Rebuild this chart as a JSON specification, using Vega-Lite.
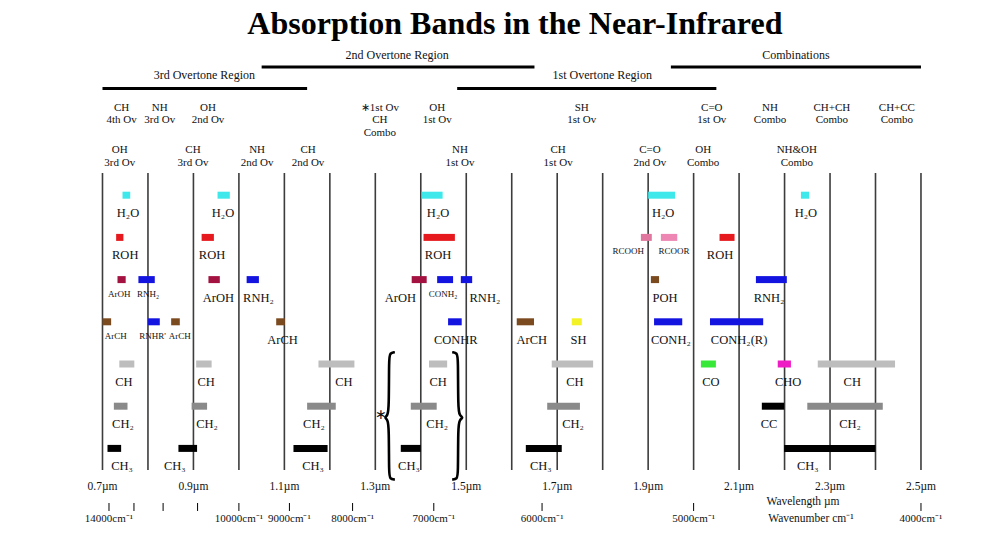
{
  "$schema": "https://vega.github.io/schema/vega-lite/v6.json",
  "width": 992,
  "height": 547,
  "padding": 0,
  "autosize": {"type": "fit", "contains": "padding"},
  "background": "white",
  "config": {"view": {"stroke": null}, "text": {"font": "Liberation Serif", "color": "#111"}},
  "datasets": {
    "grid": [
      {"wl": 0.7, "row": 0.474, "row2": 7.51}, {"wl": 0.8, "row": 0.474, "row2": 7.51},
      {"wl": 0.9, "row": 0.474, "row2": 7.51}, {"wl": 1.0, "row": 0.474, "row2": 7.51},
      {"wl": 1.1, "row": 0.474, "row2": 7.51}, {"wl": 1.2, "row": 0.474, "row2": 7.51},
      {"wl": 1.3, "row": 0.474, "row2": 7.51}, {"wl": 1.4, "row": 0.474, "row2": 7.51},
      {"wl": 1.5, "row": 0.474, "row2": 7.51}, {"wl": 1.6, "row": 0.474, "row2": 7.51},
      {"wl": 1.7, "row": 0.474, "row2": 7.51}, {"wl": 1.8, "row": 0.474, "row2": 7.51},
      {"wl": 1.9, "row": 0.474, "row2": 7.51}, {"wl": 2.0, "row": 0.474, "row2": 7.51},
      {"wl": 2.1, "row": 0.474, "row2": 7.51}, {"wl": 2.2, "row": 0.474, "row2": 7.51},
      {"wl": 2.3, "row": 0.474, "row2": 7.51}, {"wl": 2.4, "row": 0.474, "row2": 7.51},
      {"wl": 2.5, "row": 0.474, "row2": 7.51}
    ],
    "regionLines": [
      {"wl": 0.7, "wl2": 1.15, "row": -1.528},
      {"wl": 1.05, "wl2": 1.65, "row": -2.038},
      {"wl": 1.48, "wl2": 2.05, "row": -1.528},
      {"wl": 1.95, "wl2": 2.5, "row": -2.038}
    ],
    "regionText": [
      {"wl": 0.924, "row": -1.848, "label": "3rd Overtone Region"},
      {"wl": 1.348, "row": -2.322, "label": "2nd Overtone Region"},
      {"wl": 1.799, "row": -1.848, "label": "1st Overtone Region"},
      {"wl": 2.225, "row": -2.322, "label": "Combinations"}
    ],
    "title": [
      {"wl": 1.607, "row": -3.06, "label": "Absorption Bands in the Near-Infrared"}
    ],
    "headers": [
      {"wl": 0.742, "row": -1.216, "label": "CH\n4th Ov"},
      {"wl": 0.826, "row": -1.216, "label": "NH\n3rd Ov"},
      {"wl": 0.932, "row": -1.216, "label": "OH\n2nd Ov"},
      {"wl": 1.31, "row": -1.216, "label": "∗1st Ov\nCH\nCombo"},
      {"wl": 1.436, "row": -1.216, "label": "OH\n1st Ov"},
      {"wl": 1.754, "row": -1.216, "label": "SH\n1st Ov"},
      {"wl": 2.04, "row": -1.216, "label": "C=O\n1st Ov"},
      {"wl": 2.168, "row": -1.216, "label": "NH\nCombo"},
      {"wl": 2.304, "row": -1.216, "label": "CH+CH\nCombo"},
      {"wl": 2.447, "row": -1.216, "label": "CH+CC\nCombo"},
      {"wl": 0.738, "row": -0.209, "label": "OH\n3rd Ov"},
      {"wl": 0.899, "row": -0.209, "label": "CH\n3rd Ov"},
      {"wl": 1.04, "row": -0.209, "label": "NH\n2nd Ov"},
      {"wl": 1.152, "row": -0.209, "label": "CH\n2nd Ov"},
      {"wl": 1.486, "row": -0.209, "label": "NH\n1st Ov"},
      {"wl": 1.702, "row": -0.209, "label": "CH\n1st Ov"},
      {"wl": 1.904, "row": -0.209, "label": "C=O\n2nd Ov"},
      {"wl": 2.021, "row": -0.209, "label": "OH\nCombo"},
      {"wl": 2.227, "row": -0.209, "label": "NH&OH\nCombo"}
    ],
    "bands": [
      {"wl": 0.744, "wl2": 0.761, "row": 1, "grp": "H2O"},
      {"wl": 0.953, "wl2": 0.980, "row": 1, "grp": "H2O"},
      {"wl": 1.402, "wl2": 1.448, "row": 1, "grp": "H2O"},
      {"wl": 1.900, "wl2": 1.959, "row": 1, "grp": "H2O"},
      {"wl": 2.236, "wl2": 2.254, "row": 1, "grp": "H2O"},
      {"wl": 0.730, "wl2": 0.746, "row": 2, "grp": "ROH"},
      {"wl": 0.918, "wl2": 0.945, "row": 2, "grp": "ROH"},
      {"wl": 1.406, "wl2": 1.475, "row": 2, "grp": "ROH"},
      {"wl": 1.884, "wl2": 1.908, "row": 2, "grp": "RCOOH"},
      {"wl": 1.928, "wl2": 1.964, "row": 2, "grp": "RCOOR"},
      {"wl": 2.057, "wl2": 2.090, "row": 2, "grp": "ROH"},
      {"wl": 0.733, "wl2": 0.751, "row": 3, "grp": "ArOH"},
      {"wl": 0.779, "wl2": 0.815, "row": 3, "grp": "RNH2"},
      {"wl": 0.933, "wl2": 0.958, "row": 3, "grp": "ArOH"},
      {"wl": 1.017, "wl2": 1.044, "row": 3, "grp": "RNH2"},
      {"wl": 1.380, "wl2": 1.413, "row": 3, "grp": "ArOH"},
      {"wl": 1.436, "wl2": 1.471, "row": 3, "grp": "CONH2"},
      {"wl": 1.488, "wl2": 1.513, "row": 3, "grp": "RNH2"},
      {"wl": 1.906, "wl2": 1.924, "row": 3, "grp": "POH"},
      {"wl": 2.137, "wl2": 2.205, "row": 3, "grp": "RNH2"},
      {"wl": 0.700, "wl2": 0.719, "row": 4, "grp": "ArCH"},
      {"wl": 0.800, "wl2": 0.826, "row": 4, "grp": "RNHR'"},
      {"wl": 0.851, "wl2": 0.870, "row": 4, "grp": "ArCH"},
      {"wl": 1.082, "wl2": 1.101, "row": 4, "grp": "ArCH"},
      {"wl": 1.460, "wl2": 1.490, "row": 4, "grp": "CONHR"},
      {"wl": 1.611, "wl2": 1.649, "row": 4, "grp": "ArCH"},
      {"wl": 1.732, "wl2": 1.754, "row": 4, "grp": "SH"},
      {"wl": 1.913, "wl2": 1.975, "row": 4, "grp": "CONH2"},
      {"wl": 2.036, "wl2": 2.153, "row": 4, "grp": "CONH2"},
      {"wl": 0.737, "wl2": 0.770, "row": 5, "grp": "CH"},
      {"wl": 0.906, "wl2": 0.940, "row": 5, "grp": "CH"},
      {"wl": 1.175, "wl2": 1.254, "row": 5, "grp": "CH"},
      {"wl": 1.418, "wl2": 1.458, "row": 5, "grp": "CH"},
      {"wl": 1.688, "wl2": 1.779, "row": 5, "grp": "CH"},
      {"wl": 2.016, "wl2": 2.049, "row": 5, "grp": "CO"},
      {"wl": 2.185, "wl2": 2.214, "row": 5, "grp": "CHO"},
      {"wl": 2.273, "wl2": 2.443, "row": 5, "grp": "CH"},
      {"wl": 0.725, "wl2": 0.755, "row": 6, "grp": "CH2"},
      {"wl": 0.896, "wl2": 0.930, "row": 6, "grp": "CH2"},
      {"wl": 1.150, "wl2": 1.213, "row": 6, "grp": "CH2"},
      {"wl": 1.378, "wl2": 1.435, "row": 6, "grp": "CH2"},
      {"wl": 1.678, "wl2": 1.750, "row": 6, "grp": "CH2"},
      {"wl": 2.150, "wl2": 2.199, "row": 6, "grp": "CC"},
      {"wl": 2.250, "wl2": 2.416, "row": 6, "grp": "CH2"},
      {"wl": 0.711, "wl2": 0.741, "row": 7, "grp": "CH3"},
      {"wl": 0.867, "wl2": 0.908, "row": 7, "grp": "CH3"},
      {"wl": 1.120, "wl2": 1.195, "row": 7, "grp": "CH3"},
      {"wl": 1.356, "wl2": 1.400, "row": 7, "grp": "CH3"},
      {"wl": 1.631, "wl2": 1.710, "row": 7, "grp": "CH3"},
      {"wl": 2.199, "wl2": 2.400, "row": 7, "grp": "CH3"}
    ],
    "labels": [
      {"wl": 0.756, "row": 1, "label": "H₂O", "kind": "major"},
      {"wl": 0.965, "row": 1, "label": "H₂O", "kind": "major"},
      {"wl": 1.438, "row": 1, "label": "H₂O", "kind": "major"},
      {"wl": 1.933, "row": 1, "label": "H₂O", "kind": "major"},
      {"wl": 2.247, "row": 1, "label": "H₂O", "kind": "major"},
      {"wl": 0.750, "row": 2, "label": "ROH", "kind": "major"},
      {"wl": 0.941, "row": 2, "label": "ROH", "kind": "major"},
      {"wl": 1.438, "row": 2, "label": "ROH", "kind": "major"},
      {"wl": 1.856, "row": 2, "label": "RCOOH", "kind": "minor"},
      {"wl": 1.957, "row": 2, "label": "RCOOR", "kind": "minor"},
      {"wl": 2.058, "row": 2, "label": "ROH", "kind": "major"},
      {"wl": 0.737, "row": 3, "label": "ArOH", "kind": "minor"},
      {"wl": 0.800, "row": 3, "label": "RNH₂", "kind": "minor"},
      {"wl": 0.955, "row": 3, "label": "ArOH", "kind": "major"},
      {"wl": 1.043, "row": 3, "label": "RNH₂", "kind": "major"},
      {"wl": 1.355, "row": 3, "label": "ArOH", "kind": "major"},
      {"wl": 1.449, "row": 3, "label": "CONH₂", "kind": "minor"},
      {"wl": 1.541, "row": 3, "label": "RNH₂", "kind": "major"},
      {"wl": 1.937, "row": 3, "label": "POH", "kind": "major"},
      {"wl": 2.166, "row": 3, "label": "RNH₂", "kind": "major"},
      {"wl": 0.729, "row": 4, "label": "ArCH", "kind": "minor"},
      {"wl": 0.810, "row": 4, "label": "RNHR'", "kind": "minor"},
      {"wl": 0.870, "row": 4, "label": "ArCH", "kind": "minor"},
      {"wl": 1.096, "row": 4, "label": "ArCH", "kind": "major"},
      {"wl": 1.477, "row": 4, "label": "CONHR", "kind": "major"},
      {"wl": 1.644, "row": 4, "label": "ArCH", "kind": "major"},
      {"wl": 1.747, "row": 4, "label": "SH", "kind": "major"},
      {"wl": 1.950, "row": 4, "label": "CONH₂", "kind": "major"},
      {"wl": 2.100, "row": 4, "label": "CONH₂(R)", "kind": "major"},
      {"wl": 0.747, "row": 5, "label": "CH", "kind": "major"},
      {"wl": 0.928, "row": 5, "label": "CH", "kind": "major"},
      {"wl": 1.231, "row": 5, "label": "CH", "kind": "major"},
      {"wl": 1.438, "row": 5, "label": "CH", "kind": "major"},
      {"wl": 1.739, "row": 5, "label": "CH", "kind": "major"},
      {"wl": 2.038, "row": 5, "label": "CO", "kind": "major"},
      {"wl": 2.208, "row": 5, "label": "CHO", "kind": "major"},
      {"wl": 2.349, "row": 5, "label": "CH", "kind": "major"},
      {"wl": 0.745, "row": 6, "label": "CH₂", "kind": "major"},
      {"wl": 0.930, "row": 6, "label": "CH₂", "kind": "major"},
      {"wl": 1.165, "row": 6, "label": "CH₂", "kind": "major"},
      {"wl": 1.436, "row": 6, "label": "CH₂", "kind": "major"},
      {"wl": 1.735, "row": 6, "label": "CH₂", "kind": "major"},
      {"wl": 2.166, "row": 6, "label": "CC", "kind": "major"},
      {"wl": 2.344, "row": 6, "label": "CH₂", "kind": "major"},
      {"wl": 0.743, "row": 7, "label": "CH₃", "kind": "major"},
      {"wl": 0.859, "row": 7, "label": "CH₃", "kind": "major"},
      {"wl": 1.163, "row": 7, "label": "CH₃", "kind": "major"},
      {"wl": 1.374, "row": 7, "label": "CH₃", "kind": "major"},
      {"wl": 1.664, "row": 7, "label": "CH₃", "kind": "major"},
      {"wl": 2.251, "row": 7, "label": "CH₃", "kind": "major"}
    ],
    "braces": [
      {"side": "left", "i": 1, "wl": 1.343, "row": 4.72},
      {"side": "left", "i": 2, "wl": 1.332, "row": 4.74},
      {"side": "left", "i": 3, "wl": 1.330, "row": 4.86},
      {"side": "left", "i": 4, "wl": 1.330, "row": 6.05},
      {"side": "left", "i": 5, "wl": 1.327, "row": 6.22},
      {"side": "left", "i": 6, "wl": 1.320, "row": 6.27},
      {"side": "left", "i": 7, "wl": 1.327, "row": 6.32},
      {"side": "left", "i": 8, "wl": 1.330, "row": 6.49},
      {"side": "left", "i": 9, "wl": 1.330, "row": 7.62},
      {"side": "left", "i": 10, "wl": 1.332, "row": 7.72},
      {"side": "left", "i": 11, "wl": 1.343, "row": 7.74},
      {"side": "right", "i": 1, "wl": 1.469, "row": 4.72},
      {"side": "right", "i": 2, "wl": 1.480, "row": 4.74},
      {"side": "right", "i": 3, "wl": 1.482, "row": 4.86},
      {"side": "right", "i": 4, "wl": 1.482, "row": 6.05},
      {"side": "right", "i": 5, "wl": 1.485, "row": 6.22},
      {"side": "right", "i": 6, "wl": 1.494, "row": 6.27},
      {"side": "right", "i": 7, "wl": 1.485, "row": 6.32},
      {"side": "right", "i": 8, "wl": 1.482, "row": 6.49},
      {"side": "right", "i": 9, "wl": 1.482, "row": 7.62},
      {"side": "right", "i": 10, "wl": 1.480, "row": 7.72},
      {"side": "right", "i": 11, "wl": 1.469, "row": 7.74}
    ],
    "stars": [
      {"wl": 1.312, "row": 6.22, "label": "∗"}
    ],
    "wavelengths": [
      {"wl": 0.7, "row": 7.915, "label": "0.7µm"}, {"wl": 0.9, "row": 7.915, "label": "0.9µm"},
      {"wl": 1.1, "row": 7.915, "label": "1.1µm"}, {"wl": 1.3, "row": 7.915, "label": "1.3µm"},
      {"wl": 1.5, "row": 7.915, "label": "1.5µm"}, {"wl": 1.7, "row": 7.915, "label": "1.7µm"},
      {"wl": 1.9, "row": 7.915, "label": "1.9µm"}, {"wl": 2.1, "row": 7.915, "label": "2.1µm"},
      {"wl": 2.3, "row": 7.915, "label": "2.3µm"}, {"wl": 2.5, "row": 7.915, "label": "2.5µm"}
    ],
    "wavenumbers": [
      {"wl": 0.7143, "row": 8.294, "row2": 8.483, "rowLabel": 8.673, "label": "14000cm⁻¹"},
      {"wl": 0.7692, "row": 8.294, "row2": 8.483, "rowLabel": 8.673, "label": ""},
      {"wl": 0.8333, "row": 8.294, "row2": 8.483, "rowLabel": 8.673, "label": ""},
      {"wl": 0.9091, "row": 8.294, "row2": 8.483, "rowLabel": 8.673, "label": ""},
      {"wl": 1.0, "row": 8.294, "row2": 8.483, "rowLabel": 8.673, "label": "10000cm⁻¹"},
      {"wl": 1.1111, "row": 8.294, "row2": 8.483, "rowLabel": 8.673, "label": "9000cm⁻¹"},
      {"wl": 1.25, "row": 8.294, "row2": 8.483, "rowLabel": 8.673, "label": "8000cm⁻¹"},
      {"wl": 1.4286, "row": 8.294, "row2": 8.483, "rowLabel": 8.673, "label": "7000cm⁻¹"},
      {"wl": 1.6667, "row": 8.294, "row2": 8.483, "rowLabel": 8.673, "label": "6000cm⁻¹"},
      {"wl": 2.0, "row": 8.294, "row2": 8.483, "rowLabel": 8.673, "label": "5000cm⁻¹"},
      {"wl": 2.5, "row": 8.294, "row2": 8.483, "rowLabel": 8.673, "label": "4000cm⁻¹"}
    ],
    "axisTitles": [
      {"wl": 2.2406, "row": 8.28, "label": "Wavelength µm"},
      {"wl": 2.258, "row": 8.673, "label": "Wavenumber cm⁻¹"}
    ]
  },
  "encoding": {
    "x": {"field": "wl", "type": "quantitative", "scale": {"domain": [0.4746, 2.6562], "nice": false, "zero": false}, "axis": null},
    "y": {"field": "row", "type": "quantitative", "scale": {"domain": [-3.6256, 9.3365], "nice": false, "zero": false, "reverse": true}, "axis": null}
  },
  "layer": [
    {
      "data": {"name": "grid"},
      "mark": {"type": "rule", "color": "#3c3c3c", "strokeWidth": 1.6},
      "encoding": {"y2": {"field": "row2"}}
    },
    {
      "data": {"name": "regionLines"},
      "mark": {"type": "rule", "color": "#000", "strokeWidth": 3.2},
      "encoding": {"x2": {"field": "wl2"}}
    },
    {
      "data": {"name": "regionText"},
      "mark": {"type": "text", "fontSize": 12, "baseline": "middle", "align": "center"},
      "encoding": {"text": {"field": "label"}}
    },
    {
      "data": {"name": "title"},
      "mark": {"type": "text", "fontSize": 32, "fontWeight": "bold", "baseline": "middle", "align": "center", "color": "#000"},
      "encoding": {"text": {"field": "label"}}
    },
    {
      "data": {"name": "headers"},
      "mark": {"type": "text", "fontSize": 11, "baseline": "top", "align": "center", "lineBreak": "\n", "lineHeight": 12.5},
      "encoding": {"text": {"field": "label"}}
    },
    {
      "data": {"name": "bands"},
      "mark": {"type": "rule", "strokeWidth": 7, "strokeCap": "butt"},
      "encoding": {
        "x2": {"field": "wl2"},
        "color": {
          "field": "grp", "type": "nominal", "legend": null,
          "scale": {
            "domain": ["H2O", "ROH", "ArOH", "RNH2", "RNHR'", "CONH2", "CONHR", "ArCH", "POH", "SH", "CH", "CH2", "CH3", "CC", "RCOOH", "RCOOR", "CO", "CHO"],
            "range": ["#3fe8ea", "#e61a1e", "#a31240", "#1414e0", "#1414e0", "#1414e0", "#1414e0", "#7b4a1e", "#7b4a1e", "#f2f226", "#bdbdbd", "#8a8a8a", "#000000", "#000000", "#e0769e", "#ee86b4", "#38e838", "#ee1cc4"]
          }
        }
      }
    },
    {
      "data": {"name": "labels"},
      "transform": [{"filter": "datum.kind === 'major'"}],
      "mark": {"type": "text", "fontSize": 12.5, "baseline": "middle", "align": "center", "dy": 18},
      "encoding": {"text": {"field": "label"}}
    },
    {
      "data": {"name": "labels"},
      "transform": [{"filter": "datum.kind === 'minor'"}],
      "mark": {"type": "text", "fontSize": 9, "baseline": "middle", "align": "center", "dy": 14},
      "encoding": {"text": {"field": "label"}}
    },
    {
      "data": {"name": "braces"},
      "mark": {"type": "line", "interpolate": "basis", "color": "#000", "strokeWidth": 2.6},
      "encoding": {"detail": {"field": "side"}, "order": {"field": "i"}}
    },
    {
      "data": {"name": "stars"},
      "mark": {"type": "text", "fontSize": 14, "baseline": "middle", "align": "center"},
      "encoding": {"text": {"field": "label"}}
    },
    {
      "data": {"name": "wavelengths"},
      "mark": {"type": "text", "fontSize": 11.5, "baseline": "middle", "align": "center"},
      "encoding": {"text": {"field": "label"}}
    },
    {
      "data": {"name": "wavenumbers"},
      "mark": {"type": "rule", "color": "#000", "strokeWidth": 1},
      "encoding": {"y2": {"field": "row2"}}
    },
    {
      "data": {"name": "wavenumbers"},
      "mark": {"type": "text", "fontSize": 11, "baseline": "middle", "align": "center"},
      "encoding": {"y": {"field": "rowLabel", "type": "quantitative"}, "text": {"field": "label"}}
    },
    {
      "data": {"name": "axisTitles"},
      "mark": {"type": "text", "fontSize": 11.5, "baseline": "middle", "align": "center"},
      "encoding": {"text": {"field": "label"}}
    }
  ]
}
